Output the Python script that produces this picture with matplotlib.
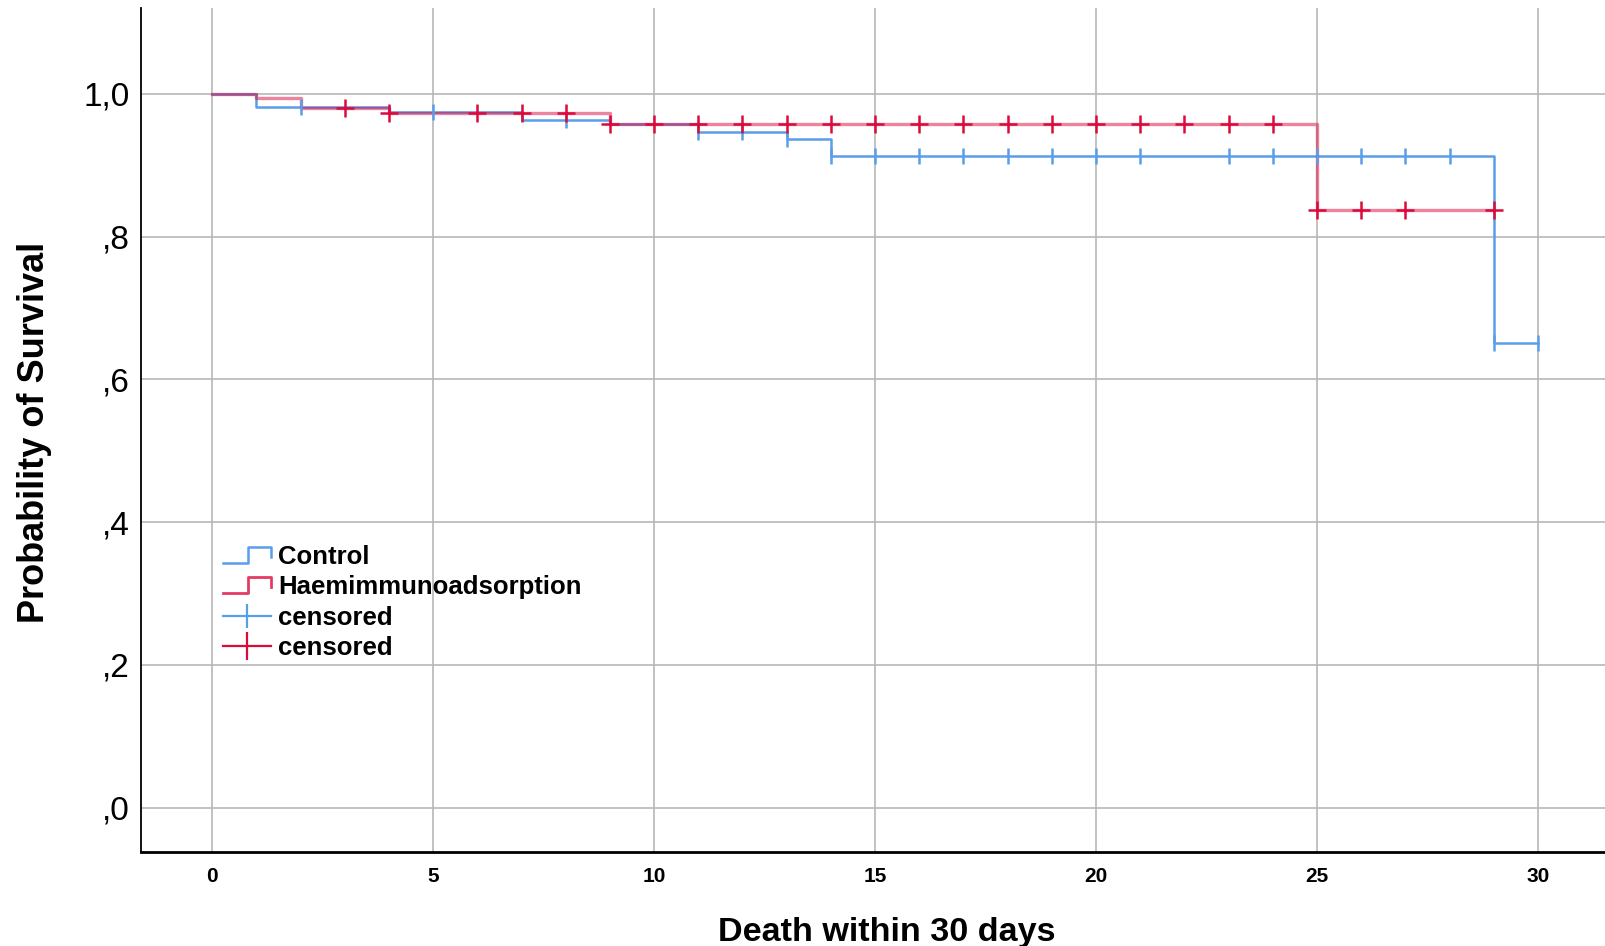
import numpy as np
import matplotlib
matplotlib.use("Agg")
import matplotlib.pyplot as plt
from matplotlib.lines import Line2D
from matplotlib.legend_handler import HandlerBase
from matplotlib.ticker import FuncFormatter

plt.rcParams['font.family'] = ['Liberation Sans', 'DejaVu Sans']

# Kaplan-Meier steps
control_t = [0, 1, 4, 7, 9, 11, 13, 14, 29, 30]
control_s = [1.0, 0.982, 0.975, 0.963, 0.957, 0.947, 0.937, 0.913, 0.651, 0.651]
control_cens = [2, 5, 8, 11, 12, 13, 14, 15, 16, 17, 18, 19, 20, 21,
                23, 24, 25, 26, 27, 28, 29, 30]

haem_t = [0, 1, 2, 4, 9, 25, 29]
haem_s = [1.0, 0.994, 0.980, 0.973, 0.958, 0.837, 0.837]
haem_cens = [3, 4, 6, 7, 8, 9, 10, 11, 12, 13, 14, 15, 16, 17, 18, 19,
             20, 21, 22, 23, 24, 25, 26, 27, 29]

x_ticks = [0, 5, 10, 15, 20, 25, 30]
y_ticks = [0.0, 0.2, 0.4, 0.6, 0.8, 1.0]

blue = '#5a9eea'
red = '#dc0a3c'


def surv_at(times, surv, t):
    idx = np.searchsorted(times, t, side='right') - 1
    return np.asarray(surv)[idx]


def comma_fmt(v, pos):
    s = ('%.1f' % v).replace('.', ',')
    return s if v >= 1 else s.lstrip('0')


class StepHandler(HandlerBase):
    def create_artists(self, legend, orig_handle, xdescent, ydescent,
                       width, height, fontsize, trans):
        fx = [0, 0.52, 0.52, 1.0, 1.0]
        fy = [0.05, 0.05, 0.95, 0.95, 0.4]
        x = [-xdescent + f * width for f in fx]
        y = [-ydescent + f * height for f in fy]
        ln = Line2D(x, y, color=orig_handle.get_color(),
                    lw=orig_handle.get_linewidth(), alpha=orig_handle.get_alpha())
        ln.set_transform(trans)
        return [ln]


fig = plt.figure(figsize=(16.06, 9.46), dpi=100)
ax = fig.add_axes([0.0878, 0.0994, 0.9122, 0.8921])

ax.step(control_t, control_s, where='post', color=blue, lw=1.8, zorder=3)
ax.step(haem_t, haem_s, where='post', color=red, lw=2.4, alpha=0.5, zorder=4)
ax.plot(control_cens, surv_at(control_t, control_s, control_cens), ls='none',
        marker='|', ms=11, mew=1.8, color=blue, zorder=5)
ax.plot(haem_cens, surv_at(haem_t, haem_s, haem_cens), ls='none',
        marker='+', ms=12.5, mew=1.8, color=red, zorder=6)

ax.set_xlim(-1.61, 31.54)
ax.set_ylim(-0.062, 1.12)
ax.set_xticks(x_ticks)
ax.set_yticks(y_ticks)
ax.yaxis.set_major_formatter(FuncFormatter(comma_fmt))
ax.grid(True, color='#b8b8b8', lw=1.2)
ax.set_axisbelow(True)
ax.tick_params(axis='y', length=0, pad=8, labelsize=24)
ax.tick_params(axis='x', length=0, pad=11, labelsize=15)
for lab in ax.get_xticklabels():
    lab.set_fontweight('bold')
for s in ['top', 'right']:
    ax.spines[s].set_visible(False)
ax.spines['left'].set_linewidth(1.3)
ax.spines['bottom'].set_linewidth(2.0)

ax.set_xlabel('Death within 30 days', fontsize=24.6, fontweight='bold')
ax.xaxis.set_label_coords(0.509, -0.096)
ax.xaxis.label.set_va('center')
ax.set_ylabel('Probability of Survival', fontsize=26, fontweight='bold')
ax.yaxis.set_label_coords(-0.0724, 0.4976)
ax.yaxis.label.set_va('center')

h1 = Line2D([], [], color=blue, lw=1.8)
h2 = Line2D([], [], color=red, lw=2.0, alpha=0.8)
h3 = Line2D([], [], color=blue, lw=1.6, marker='|', ms=17, mew=1.6)
h4 = Line2D([], [], color=red, lw=1.6, marker='|', ms=20, mew=1.6)
ax.legend([h1, h2, h3, h4],
          ['Control', 'Haemimmunoadsorption', 'censored', 'censored'],
          handler_map={h1: StepHandler(), h2: StepHandler()},
          loc='upper left', bbox_to_anchor=(0.056, 0.364), frameon=False,
          borderpad=0, borderaxespad=0, handlelength=1.85, handletextpad=0.3,
          labelspacing=0.25, numpoints=1,
          prop={'size': 18.5, 'weight': 'bold'})

fig.savefig('out.png', dpi=100)
